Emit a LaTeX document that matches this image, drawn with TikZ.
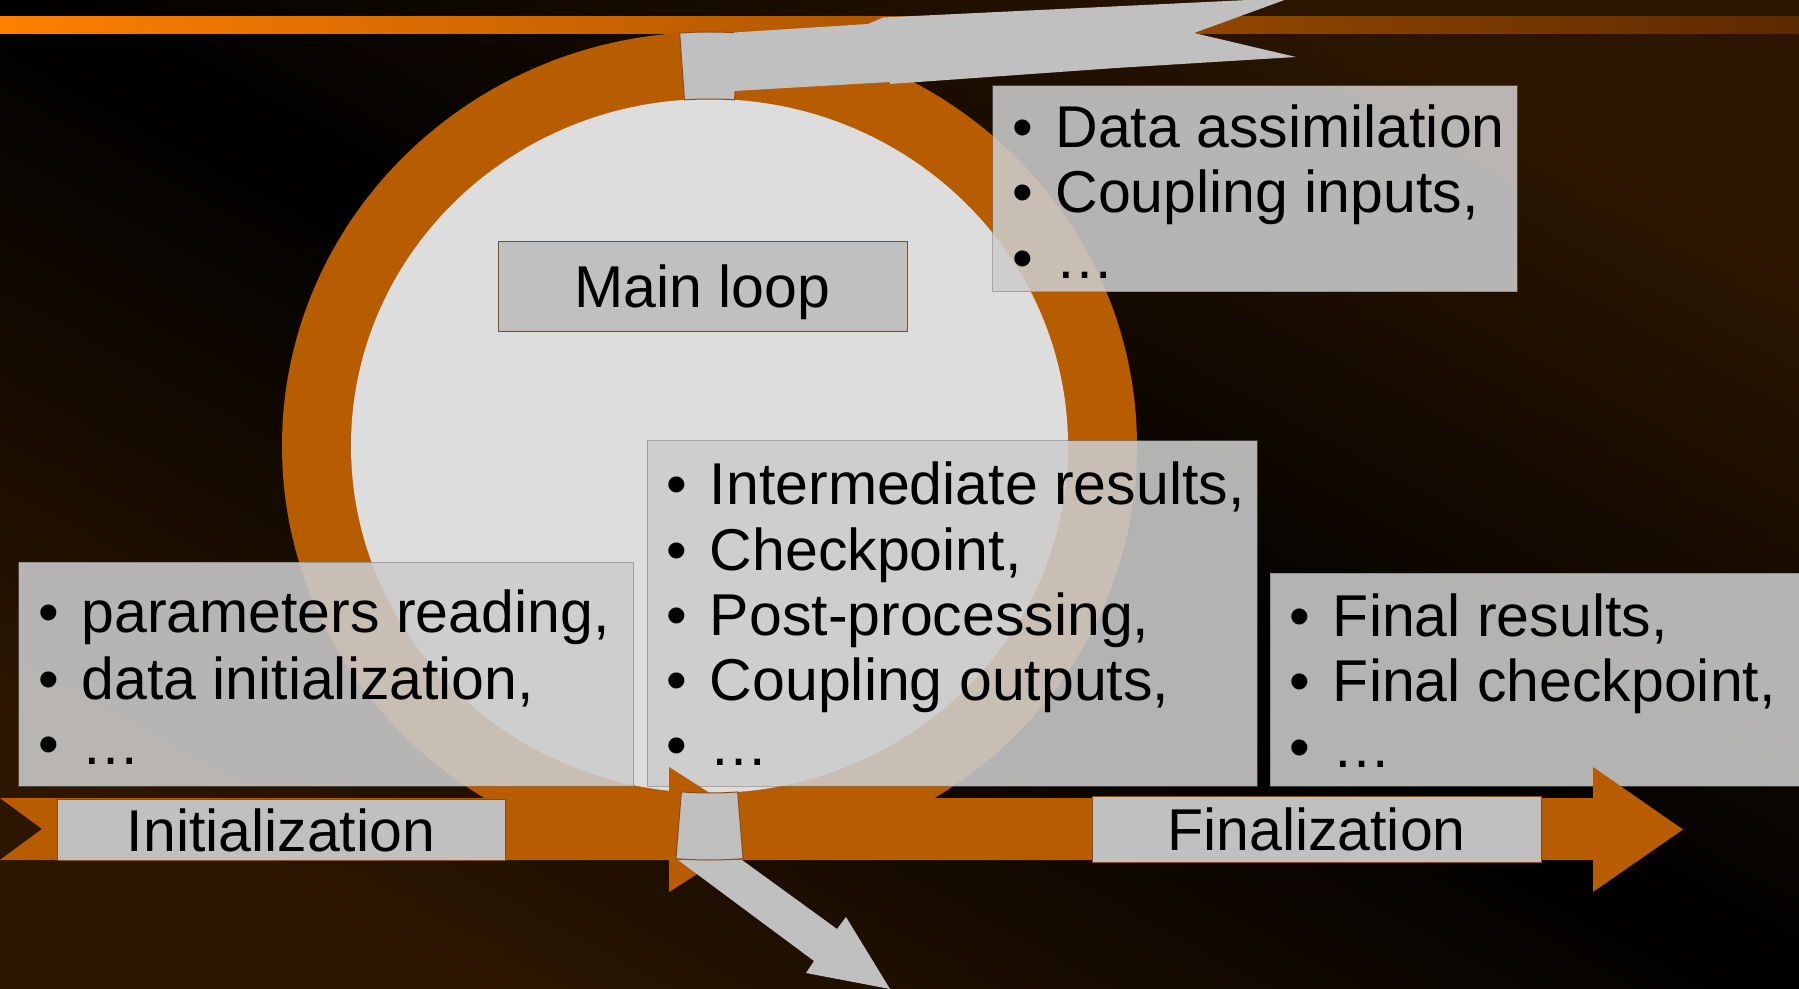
\documentclass[tikz,border=0pt]{standalone}
\usepackage{fontspec}
\setmainfont{Liberation Sans}
\definecolor{ringor}{RGB}{184,92,0}
\definecolor{circlg}{RGB}{221,221,221}
\definecolor{shapeg}{RGB}{192,192,192}
\definecolor{boxg}{RGB}{204,204,204}
\definecolor{edgebr}{RGB}{140,75,20}
\definecolor{bgbr}{RGB}{44,22,0}
\definecolor{baror}{RGB}{255,128,0}
\definecolor{bardk}{RGB}{92,42,0}
\newcommand\bulletitem{\makebox[0pt][c]{•}\hspace{16.5pt}}
\begin{document}
\begin{tikzpicture}[x=0.5pt,y=-0.5pt,
  every node/.style={inner sep=0pt, outer sep=0pt},
  txt/.style={font=\fontsize{29.5}{34}\selectfont, text=black, anchor=base west},
  ctxt/.style={font=\fontsize{29.5}{34}\selectfont, text=black, anchor=base},
  listbox/.style={anchor=north west, fill=boxg, fill opacity=0.88, draw=black!55, draw opacity=0.5, line width=0.5pt},
  labbox/.style={fill=shapeg, draw=edgebr, line width=0.5pt},
  quadpiece/.style={fill=shapeg, draw=edgebr, line width=0.5pt},
  grayarrow/.style={fill=shapeg},
  orarrow/.style={fill=ringor}]
\useasboundingbox (0,0) rectangle (1799,989);
\clip (0,0) rectangle (1799,989);
% background
\shade[top color=bgbr, bottom color=bgbr, middle color=black, shading angle=-28.8] (0,0) rectangle (1799,989);
% top orange bar
\shade[left color=baror, right color=bardk] (0,17) rectangle (1799,34);
% ring
\fill[ringor] (709.5,446) ellipse [x radius=213.75pt, y radius=207pt];
\fill[circlg] (709.5,446) ellipse [x radius=179.25pt, y radius=173.5pt];
% main loop
\node[labbox, minimum width=204.5pt, minimum height=45pt] (mainbox) at (702.5,287) {};
\node[ctxt] (maintxt) at (702.5,308) {Main loop};
% list boxes
\node[listbox, minimum width=262.25pt, minimum height=103pt] (b1) at (992.5,86) {};
\node[listbox, minimum width=305pt, minimum height=172.5pt] (b2) at (647,441) {};
\node[listbox, minimum width=307.5pt, minimum height=112pt] (b3) at (18.5,562) {};
\node[listbox, minimum width=270pt, minimum height=106.5pt] (b4) at (1270,573) {};
% box 1 text
\node[txt] (b1a) at (1022.5,148) {\bulletitem Data assimilation};
\node[txt] (b1b) at (1022.5,213) {\bulletitem Coupling inputs,};
\node[txt] (b1c) at (1022.5,279) {\bulletitem …};
% box 2 text
\node[txt] (b2a) at (677,504) {\bulletitem Intermediate results,};
\node[txt] (b2b) at (677,570) {\bulletitem Checkpoint,};
\node[txt] (b2c) at (677,635) {\bulletitem Post-processing,};
\node[txt] (b2d) at (677,700) {\bulletitem Coupling outputs,};
\node[txt] (b2e) at (677,765) {\bulletitem …};
% box 3 text
\node[txt] (b3a) at (48.5,632) {\bulletitem parameters reading,};
\node[txt] (b3b) at (48.5,699) {\bulletitem data initialization,};
\node[txt] (b3c) at (48.5,764) {\bulletitem …};
% box 4 text
\node[txt] (b4a) at (1300,636) {\bulletitem Final results,};
\node[txt] (b4b) at (1300,701) {\bulletitem Final checkpoint,};
\node[txt] (b4c) at (1300,767) {\bulletitem …};
% orange time line arrows
\fill[orarrow] (0,798) -- (669,798) -- (669,767) -- (767,829.5) -- (669,892) -- (669,860) -- (0,860) -- (42,829) -- cycle;
\fill[orarrow] (700,798) -- (1593,798) -- (1593,767) -- (1683,829.5) -- (1593,892) -- (1593,860) -- (700,860) -- cycle;
% bottom gray arrow and ring piece
\fill[grayarrow] (678,860) -- (742,860) -- (837,929) -- (846,917) -- (890,989) -- (806,973) -- (814,961) -- cycle;
\draw[quadpiece] plot[domain=265.5:274.5,samples=9] ({709.5+427.5*cos(\x)},{446-414*sin(\x)}) -- plot[domain=274.5:265.5,samples=9] ({709.5+358.5*cos(\x)},{446-347*sin(\x)}) -- cycle;
% top ring piece and gray arrow
\draw[quadpiece] plot[domain=86:94,samples=9] ({709.5+427.5*cos(\x)},{446-414*sin(\x)}) -- plot[domain=94:86,samples=9] ({709.5+358.5*cos(\x)},{446-347*sin(\x)}) -- cycle;
\fill[grayarrow] (734,32.5) -- (868,24) -- (883,17.5) -- (1290,-2) -- (1194,33) -- (1296,57) -- (1116,68) -- (890,84) -- (890,82) -- (734,91) -- cycle;
% phase labels
\node[labbox, minimum width=224pt, minimum height=30.5pt] (initbox) at (281,829.5) {};
\node[ctxt] (inittxt) at (281,851) {Initialization};
\node[labbox, minimum width=224.5pt, minimum height=33pt] (finbox) at (1316.5,829) {};
\node[ctxt] (fintxt) at (1316.5,850) {Finalization};
\end{tikzpicture}
\end{document}
